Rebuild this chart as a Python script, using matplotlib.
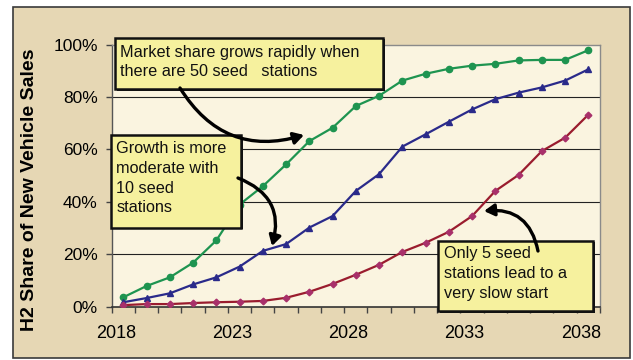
import matplotlib
matplotlib.use("Agg")
import matplotlib.pyplot as plt
from matplotlib.patches import Rectangle, FancyArrowPatch
import numpy as np

plt.rcParams['font.family'] = ['Liberation Sans', 'DejaVu Sans']

years = list(range(2018, 2039))
share_50 = [3.6, 7.9, 11.2, 16.8, 25.3, 39.0, 46.0, 54.3, 63.2, 68.3, 76.6, 80.5,
            86.3, 88.9, 90.8, 92.0, 92.7, 94.0, 94.2, 94.2, 97.9]
share_10 = [1.7, 3.3, 5.1, 8.5, 11.2, 15.3, 21.3, 23.9, 30.2, 34.6, 44.2, 50.6,
            61.1, 65.8, 70.6, 75.3, 79.2, 81.7, 83.7, 86.3, 90.6]
share_5 = [0.6, 1.0, 1.0, 1.4, 1.7, 1.9, 2.2, 3.4, 5.7, 8.7, 12.2, 16.0,
           20.9, 24.4, 28.6, 34.6, 44.2, 50.3, 59.4, 64.5, 73.3]
year_labels = ['2018', '2023', '2028', '2033', '2038']
y_ticks = [0, 20, 40, 60, 80, 100]
y_labels = ['0%', '20%', '40%', '60%', '80%', '100%']

W, H = 633, 360
fig = plt.figure(figsize=(W / 100, H / 100), dpi=100, facecolor='white')


def px(x, y):
    return (x / W, 1 - y / H)


# outer parchment panel
x0, y0 = px(13, 358)
x1, y1 = px(630, 7)
fig.patches.append(Rectangle((x0, y0), x1 - x0, y1 - y0, transform=fig.transFigure,
                             facecolor='#E6D7B4', edgecolor='#3a3a3a', linewidth=1.2,
                             zorder=-2))

l, b = px(111.7, 306.7)
r, t = px(600, 44.7)
ax = fig.add_axes([l, b, r - l, t - b])
ax.set_facecolor('#FAF4E0')

xs = np.arange(len(years))
ax.plot(xs, share_50, color='#1E9450', lw=1.6, marker='o', ms=4.5, zorder=3)
ax.plot(xs, share_10, color='#2A2A8A', lw=1.6, marker='^', ms=5, zorder=3)
ax.plot(xs, share_5, color='#9A1C2E', lw=1.6, marker='D', ms=3.4,
        mfc='#A8306A', mec='#A8306A', zorder=3)

ax.set_xlim(-0.5, len(years) - 0.5)
ax.set_ylim(0, 100)

ax.set_yticks(y_ticks)
ax.set_yticklabels(y_labels, fontsize=12.5)
ax.tick_params(axis='y', length=4, width=1, color='#444444', pad=6)

label_pos = [years.index(int(s)) - 0.32 for s in year_labels]
ax.set_xticks(label_pos)
ax.set_xticklabels(year_labels, fontsize=13)
ax.set_xticks(np.arange(-0.5, len(years)), minor=True)
ax.tick_params(axis='x', which='major', length=0, pad=13)
ax.tick_params(axis='x', which='minor', length=4.5, width=1, color='#444444')

for v in y_ticks[1:-1]:
    ax.axhline(v, color='#222222', lw=0.8, zorder=1)

for s in ['top', 'right']:
    ax.spines[s].set_color('#8a8a8a')
    ax.spines[s].set_linewidth(1)
ax.spines['left'].set_color('#555555')
ax.spines['bottom'].set_color('#333333')
ax.spines['left'].set_linewidth(1)
ax.spines['bottom'].set_linewidth(1.2)

fig.text(*px(30, 190), 'H2 Share of New Vehicle Sales', rotation=90, fontsize=14,
         fontweight='bold', ha='center', va='center')

# annotation boxes
boxes = [
    ((115, 38, 383, 89), (120, 44.5), 'Market share grows rapidly when\nthere are 50 seed   stations'),
    ((111, 135, 241, 228), (116.5, 141), 'Growth is more\nmoderate with\n10 seed\nstations'),
    ((438, 241, 593, 311), (444, 246), 'Only 5 seed\nstations lead to a\nvery slow start'),
]
for (bx0, by0, bx1, by1), (tx, ty), txt in boxes:
    a0, a1 = px(bx0, by1)
    c0, c1 = px(bx1, by0)
    fig.patches.append(Rectangle((a0 + 1.5 / W, a1 - 1.5 / H), c0 - a0, c1 - a1,
                                 transform=fig.transFigure, facecolor='#111111',
                                 edgecolor='none', zorder=4))
    fig.patches.append(Rectangle((a0, a1), c0 - a0, c1 - a1, transform=fig.transFigure,
                                 facecolor='#F6F19E', edgecolor='#111111', linewidth=1.8,
                                 zorder=5))
    fig.text(*px(tx, ty), txt, fontsize=11.7, ha='left', va='top', linespacing=1.4,
             color='#111111', zorder=7)

arrows = [
    ((180, 88), (304, 135), 0.38),
    ((238, 178), (272, 246), -0.45),
    ((538, 251), (484, 211), 0.45),
]
for s, e, rad in arrows:
    fig.patches.append(FancyArrowPatch(px(*s), px(*e), transform=fig.transFigure,
                                       connectionstyle=f'arc3,rad={rad}',
                                       arrowstyle='-|>,head_length=6,head_width=3.5',
                                       mutation_scale=1, lw=2.4, color='black',
                                       shrinkA=0, shrinkB=0, zorder=6))

fig.savefig('out.png', dpi=100, facecolor='white')
